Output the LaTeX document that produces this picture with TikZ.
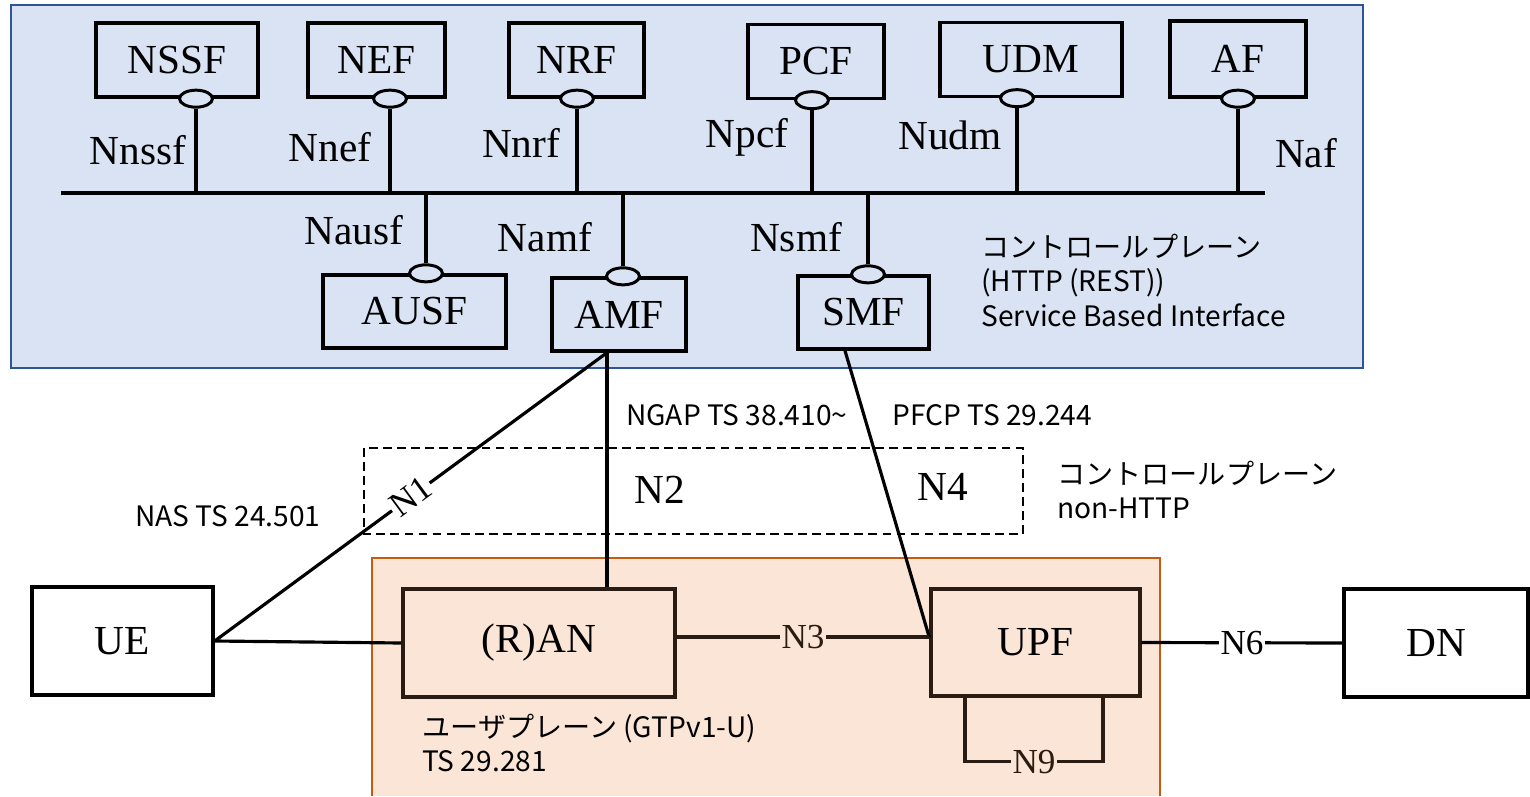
\documentclass[tikz,border=0pt]{standalone}
\usepackage{fontspec}
\setmainfont{Liberation Serif}
\newfontfamily\jpfont{Noto Sans CJK JP}
\usetikzlibrary{positioning,shapes.geometric}

\definecolor{sbiblue}{RGB}{218,227,243}
\definecolor{sbiedge}{RGB}{47,85,151}
\definecolor{upfill}{RGB}{251,229,214}
\definecolor{upedge}{RGB}{197,90,17}
\definecolor{upline}{RGB}{42,28,18}

\begin{document}
\begin{tikzpicture}[
  x=0.2mm, y=-0.2mm,
  nf/.style={draw, line width=1.9pt, minimum height=14.8mm, inner sep=0pt, font=\fontsize{23.5}{26}\selectfont},
  sap/.style={draw, ellipse, line width=1.7pt, fill=sbiblue, minimum width=6.6mm, minimum height=3.4mm, inner sep=0pt},
  link/.style={line width=1.8pt},
  iflabel/.style={inner sep=1pt, font=\fontsize{23.5}{26}\selectfont},
  ilabel/.style={inner sep=1pt, font=\fontsize{20}{22}\selectfont},
  jptext/.style={inner sep=0pt, align=left, font=\jpfont\fontsize{16}{19.5}\selectfont}
]
  \useasboundingbox (0,0) rectangle (1530,796);

  % service based area
  \fill[sbiblue] (11,5) rectangle (1363,368);
  \draw[sbiedge, line width=1.2pt] (11,5) rectangle (1363,368);

  \node[nf, minimum width=32.4mm] (nssf) at (177,60) {NSSF};
  \node[nf, minimum width=27.4mm] (nef) at (376.5,60) {NEF};
  \node[nf, minimum width=27mm] (nrf) at (576.5,60) {NRF};
  \node[nf, minimum width=27.2mm] (pcf) at (816,61.5) {PCF};
  \node[nf, minimum width=36.4mm] (udm) at (1031,59.5) {UDM};
  \node[nf, minimum width=27.2mm, minimum height=15.2mm] (af) at (1238,59) {AF};

  \node[nf, minimum width=36.6mm, minimum height=14.6mm] (ausf) at (414.5,311.5) {AUSF};
  \node[nf, minimum width=26.8mm, minimum height=14.6mm] (amf) at (619,314.5) {AMF};
  \node[nf, minimum width=26.2mm, minimum height=14.6mm] (smf) at (863.5,312.5) {SMF};

  \coordinate (busw) at (61,193);
  \coordinate (buse) at (1265,193);
  \draw[link] (busw) -- (buse);

  \foreach \nm/\dx in {nssf/19, nef/13.5, nrf/0.5, pcf/-4, udm/-14, af/0}{
    \node[sap] (o\nm) at ([xshift=\dx*0.2mm]\nm.south) {};
    \draw[link] (o\nm) -- (o\nm |- busw);
  }
  \foreach \nm/\dx in {ausf/11.5, amf/4, smf/4.5}{
    \node[sap] (o\nm) at ([xshift=\dx*0.2mm]\nm.north) {};
    \draw[link] (o\nm) -- (o\nm |- busw);
  }

  \node[iflabel] (lnssf) at (138,150) {Nnssf};
  \node[iflabel] (lnef) at (330,147) {Nnef};
  \node[iflabel] (lnrf) at (521,143) {Nnrf};
  \node[iflabel] (lpcf) at (747,137) {Npcf};
  \node[iflabel] (ludm) at (950,135) {Nudm};
  \node[iflabel] (laf) at (1306,153) {Naf};
  \node[iflabel] (lausf) at (354,230) {Nausf};
  \node[iflabel] (lamf) at (545,237) {Namf};
  \node[iflabel] (lsmf) at (796,237) {Nsmf};

  \node[jptext, anchor=north west] (sbi) at (981,234) {コントロールプレーン\\(HTTP (REST))\\Service Based Interface};

  % user plane area
  \fill[upfill] (372,558) rectangle (1160,796);
  \draw[upedge, line width=1pt] (372,796) -- (372,558) -- (1160,558) -- (1160,796);

  % non-HTTP control plane
  \draw[dash pattern=on 5pt off 3pt, line width=1.2pt] (364,448) rectangle (1023,534);

  \node[nf, minimum width=36.2mm, minimum height=21.6mm, fill=white] (ue) at (122.5,641) {UE};
  \node[nf, draw=upline, minimum width=54.4mm, minimum height=21.6mm] (ran) at (539,643) {(R)AN};
  \node[nf, draw=upline, minimum width=41.8mm, minimum height=21.4mm] (upf) at (1035.5,642.5) {UPF};
  \node[nf, minimum width=36.8mm, minimum height=21.6mm, fill=white] (dn) at (1436,643) {DN};

  \coordinate (amfs) at ([xshift=-2.4mm]amf.south);
  \coordinate (smfs) at ([xshift=-3.7mm]smf.south);

  \draw[link] (ue.east) -- node[ilabel, sloped, fill=white] (n1) {N1} (amfs);
  \draw[link] (ue.east) -- (ran.west);
  \draw[link] (amfs) -- (amfs |- ran.north);
  \draw[link] (smfs) -- ([yshift=1mm]upf.west);
  \draw[link, upline] ([yshift=1.2mm]ran.east) -- node[ilabel, fill=upfill] (n3) {N3} ([yshift=1.2mm]ran.east -| upf.west);
  \draw[link] (upf.east) -- node[ilabel, fill=white] (n6) {N6} (dn.west);

  \coordinate (n9a) at ([xshift=-14.1mm]upf.south);
  \coordinate (n9b) at ([xshift=13.5mm]upf.south);
  \draw[link, upline] (n9a) -- ++(0,64) -| node[pos=0.25, ilabel, fill=upfill] (n9) {N9} (n9b);

  \node[iflabel] (n2) at (660,490) {N2};
  \node[iflabel] (n4) at (943,487) {N4};

  \node[jptext, anchor=west] (ngap) at (626,415) {NGAP TS 38.410\textasciitilde};
  \node[jptext, anchor=west] (pfcp) at (892,415) {PFCP TS 29.244};
  \node[jptext, anchor=west] (nas) at (135,516) {NAS TS 24.501};
  \node[jptext, anchor=north west] (nonhttp) at (1057,461) {コントロールプレーン\\non-HTTP};
  \node[jptext, anchor=north west] (uplane) at (422,714) {ユーザプレーン (GTPv1-U)\\TS 29.281};
\end{tikzpicture}
\end{document}
